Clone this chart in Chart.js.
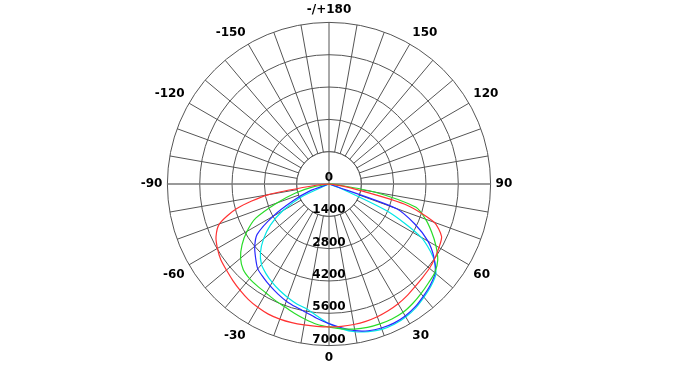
<!DOCTYPE html>
<html>
<head>
<meta charset="utf-8">
<script src="https://cdn.jsdelivr.net/npm/chart.js@4.4.0/dist/chart.umd.min.js"></script>
<style>
  html, body { margin: 0; padding: 0; background: #fff; }
  #wrap { width: 678px; height: 380px; }
</style>
</head>
<body>
<div id="wrap"><canvas id="chart"></canvas></div>
<script>
// gamma angles of the measured half plane, 5 deg steps
var gammas = [-90, -85, -80, -75, -70, -65, -60, -55, -50, -45, -40, -35, -30, -25, -20, -15, -10, -5,
  0, 5, 10, 15, 20, 25, 30, 35, 40, 45, 50, 55, 60, 65, 70, 75, 80, 85, 90];

// intensities (cd) per C plane
var redC = [0, 500, 2700, 4150, 5050, 5400, 5580, 5720, 5800, 5900, 6000, 6100, 6170, 6220, 6230, 6220, 6200, 6190,
  6190, 6190, 6180, 6160, 6120, 6060, 5990, 5900, 5800, 5730, 5680, 5600, 5500, 5380, 4850, 3400, 900, 0, 0];
var greenC = [0, 0, 700, 1500, 2400, 3500, 4100, 4600, 5000, 5250, 5350, 5400, 5450, 5550, 5650, 5800, 5950, 6100,
  6200, 6300, 6380, 6430, 6450, 6450, 6420, 6320, 6200, 6080, 5980, 5750, 5350, 4900, 4450, 3900, 2000, 300, 0];
var blueC = [0, 0, 0, 0, 900, 1700, 2800, 3800, 4200, 4500, 4800, 4950, 5100, 5250, 5400, 5520, 5650, 5850,
  6050, 6250, 6450, 6580, 6640, 6650, 6600, 6500, 6350, 6200, 6000, 5550, 4950, 4100, 3100, 0, 0, 0, 0];
var cyanC = [0, 0, 0, 0, 0, 1300, 2300, 3100, 3700, 4200, 4550, 4750, 4920, 5080, 5230, 5380, 5500, 5750,
  6050, 6300, 6500, 6620, 6700, 6700, 6650, 6550, 6400, 6250, 6050, 5500, 4600, 2800, 500, 0, 0, 0, 0];

var ringTicks = [0, 1400, 2800, 4200, 5600, 7000];
var shownAngles = [0, 30, 60, 90, 120, 150, 180, -150, -120, -90, -60, -30];

var gridColor = "#555";
var fontFamily = "'DejaVu Sans', Verdana, sans-serif";
var labelFont = "bold 12px " + fontFamily;

// full circle, starting at the bottom and going clockwise
var angleLabels = [];
for (var i = 0; i < 72; i++) {
  var a = -5 * i;
  if (a <= -180) a += 360;
  angleLabels.push(a);
}

function toCircle(values) {
  return angleLabels.map(function (a) {
    var k = gammas.indexOf(a);
    return k >= 0 ? values[k] : 0;
  });
}

function series(label, values, color) {
  return {
    label: label,
    data: toCircle(values),
    borderColor: color,
    backgroundColor: "transparent",
    borderWidth: 1.2,
    pointRadius: 0,
    tension: 0.25,
    fill: false,
  };
}

var polarDecor = {
  id: "polarDecor",
  beforeDatasetsDraw: function (chart) {
    var s = chart.scales.r;
    var ctx = chart.ctx;
    var r1 = s.getDistanceFromCenterForValue(ringTicks[1]);
    ctx.save();
    ctx.beginPath();
    ctx.arc(s.xCenter, s.yCenter, r1, 0, Math.PI * 2);
    ctx.fillStyle = "#fff";
    ctx.fill();
    ctx.strokeStyle = gridColor;
    ctx.lineWidth = 1;
    ctx.stroke();
    ctx.beginPath();
    ctx.moveTo(s.xCenter, s.yCenter - r1);
    ctx.lineTo(s.xCenter, s.yCenter + r1);
    ctx.stroke();
    ctx.beginPath();
    ctx.strokeStyle = "#777";
    ctx.lineWidth = 1.6;
    ctx.moveTo(s.xCenter - r1, s.yCenter);
    ctx.lineTo(s.xCenter + r1, s.yCenter);
    ctx.stroke();
    ctx.restore();
  },
  afterDraw: function (chart) {
    var s = chart.scales.r;
    var ctx = chart.ctx;
    ctx.save();
    ctx.font = labelFont;
    ctx.fillStyle = "#000";
    ctx.textAlign = "center";
    ctx.textBaseline = "middle";
    ringTicks.forEach(function (v) {
      var d = s.getDistanceFromCenterForValue(v);
      ctx.fillText(String(v), s.xCenter, s.yCenter + d - 6);
    });
    ctx.restore();
  },
};

new Chart(document.getElementById("chart"), {
  type: "radar",
  data: {
    labels: angleLabels,
    datasets: [
      series("C0", redC, "rgb(255,50,50)"),
      series("C90", greenC, "rgb(40,220,40)"),
      series("C180", blueC, "rgb(40,40,255)"),
      series("C270", cyanC, "rgb(0,230,230)"),
    ],
  },
  options: {
    responsive: true,
    maintainAspectRatio: false,
    animation: false,
    layout: { padding: { top: 3, bottom: 15, left: 0, right: 20 } },
    plugins: { legend: { display: false }, tooltip: { enabled: false } },
    scales: {
      r: {
        min: 0,
        max: 7000,
        startAngle: 180,
        ticks: { display: false, stepSize: 1400 },
        grid: { circular: true, color: gridColor, lineWidth: 1 },
        angleLines: {
          color: function (c) {
            if (c.index === 18 || c.index === 54) return "#777";
            return c.index % 2 === 0 ? gridColor : "transparent";
          },
          lineWidth: function (c) {
            return c.index === 18 || c.index === 54 ? 1.6 : 1;
          },
        },
        pointLabels: {
          padding: 5,
          color: "#000",
          font: { family: fontFamily, size: 12, weight: "bold" },
          callback: function (label) {
            if (shownAngles.indexOf(label) < 0) return "";
            return label === 180 ? "-/+180" : String(label);
          },
        },
      },
    },
  },
  plugins: [polarDecor],
});
</script>
</body>
</html>
